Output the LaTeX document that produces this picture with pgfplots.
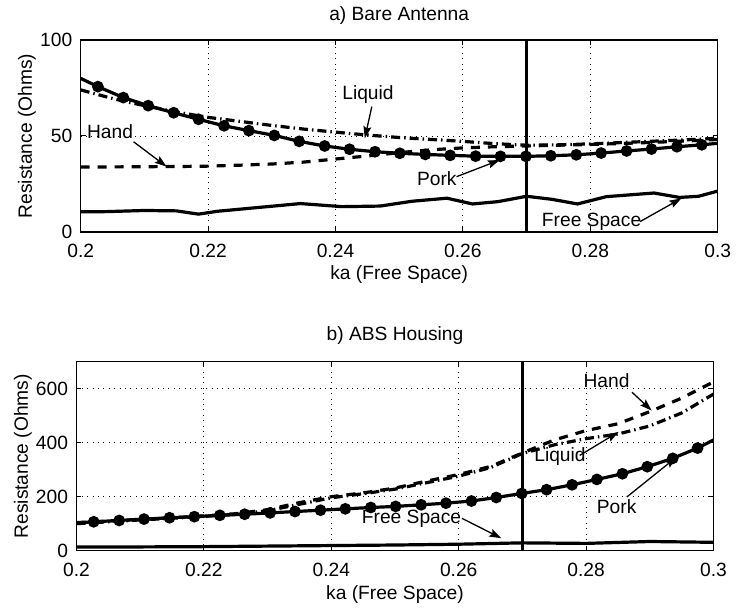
\documentclass[border=0pt]{standalone}
\usepackage{fontspec}
\setmainfont{Liberation Sans}
\usepackage{pgfplots}
\usepackage{pgfplotstable}
\pgfplotsset{compat=1.18}
\usetikzlibrary{arrows.meta}

\newcommand{\lblfont}{\fontsize{19.2}{22}\selectfont}

% ---------- a) Bare antenna ----------
\pgfplotstableread{
ka R
0.2000 80.0
0.2027 75.7
0.2067 70.0
0.2106 65.8
0.2146 62.1
0.2185 58.7
0.2225 55.3
0.2264 52.8
0.2304 50.3
0.2343 47.2
0.2383 44.8
0.2422 43.1
0.2462 41.8
0.2501 41.0
0.2541 40.4
0.2580 39.9
0.2620 39.5
0.2659 39.4
0.2699 39.4
0.2738 39.7
0.2778 40.2
0.2817 41.1
0.2857 42.2
0.2896 43.2
0.2936 44.4
0.2975 45.4
0.3000 46.2
}\porkA

\pgfplotstableread{
ka R
0.200 74.0
0.205 69.5
0.210 65.8
0.215 62.5
0.220 59.7
0.225 57.6
0.230 55.5
0.235 53.6
0.240 52.0
0.245 50.5
0.250 49.2
0.255 48.2
0.260 47.2
0.265 46.0
0.270 45.2
0.275 45.4
0.280 45.9
0.285 46.6
0.290 47.3
0.295 48.0
0.300 48.8
}\liquidA

\pgfplotstableread{
ka R
0.200 33.8
0.205 33.9
0.210 34.0
0.215 34.1
0.220 34.3
0.225 34.8
0.230 35.4
0.235 36.4
0.240 38.0
0.245 39.6
0.250 41.3
0.255 42.8
0.260 43.8
0.265 44.4
0.270 44.8
0.275 45.2
0.280 45.6
0.285 46.1
0.290 46.7
0.295 47.4
0.300 48.2
}\handA

\pgfplotstableread{
ka R
0.2000 10.5
0.2040 10.6
0.2100 11.2
0.2150 11.0
0.2185 9.3
0.2215 10.8
0.2280 12.8
0.2345 14.8
0.2410 13.2
0.2470 13.5
0.2520 16.0
0.2575 17.6
0.2615 14.6
0.2655 15.8
0.2700 18.6
0.2740 17.0
0.2780 14.6
0.2825 18.4
0.2900 20.3
0.2940 18.0
0.2970 18.6
0.3000 21.3
}\freeA

% ---------- b) ABS housing ----------
\pgfplotstableread{
ka R
0.2000 103
0.2027 107
0.2067 112
0.2106 117
0.2146 122
0.2185 126
0.2225 131
0.2264 135
0.2304 140
0.2343 145
0.2383 150
0.2422 155
0.2462 160
0.2501 164
0.2541 170
0.2580 176
0.2620 184
0.2659 197
0.2699 212
0.2738 226
0.2778 244
0.2817 264
0.2857 285
0.2896 311
0.2936 342
0.2975 380
0.3000 410
}\porkB

\pgfplotstableread{
ka R
0.200 104
0.205 110
0.210 116
0.215 122
0.220 129
0.225 137
0.230 152
0.235 178
0.240 200
0.245 214
0.250 232
0.255 258
0.260 282
0.265 312
0.270 362
0.275 410
0.280 445
0.285 470
0.290 515
0.295 565
0.300 625
}\handB

\pgfplotstableread{
ka R
0.200 100
0.205 107
0.210 114
0.215 120
0.220 127
0.225 135
0.230 148
0.235 172
0.240 196
0.245 211
0.250 228
0.255 252
0.260 276
0.265 308
0.270 360
0.275 392
0.280 415
0.285 432
0.290 462
0.295 510
0.300 580
}\liquidB

\pgfplotstableread{
ka R
0.200 14
0.210 14
0.220 15
0.230 17
0.240 19
0.250 21
0.260 24
0.270 29
0.280 27
0.290 34
0.300 31
}\freeB

\tikzset{
  note/.style={font=\lblfont, inner sep=1pt},
  pointer/.style={black, line width=1.3pt, -{Stealth[length=12pt, width=8pt, inset=2pt]}},
}

\pgfplotsset{
  panel/.style={
    scale only axis, width=637pt,
    xmin=0.2, xmax=0.3,
    xtick={0.2,0.22,0.24,0.26,0.28,0.3},
    xticklabels={0.2,0.22,0.24,0.26,0.28,0.3},
    grid=major,
    major grid style={line width=0.9pt, dash pattern=on 0.9pt off 4.5pt, black},
    axis line style={line width=1.3pt},
    tick style={line width=1pt, black},
    tick align=inside, major tick length=5pt,
    tick label style={font=\lblfont},
    xticklabel style={inner sep=1pt, yshift=-10.8pt},
    yticklabel style={inner sep=1pt, xshift=-7.3pt},
    label style={font=\lblfont},
    title style={font=\lblfont, anchor=center},
    xlabel={ka (Free Space)},
    ylabel={Resistance (Ohms)},
    xlabel style={anchor=center},
    ylabel style={at={(axis description cs:-0.0843,0.5)}, anchor=center},
    /pgf/number format/assume math mode=true,
  },
  pork/.style={black, line width=3.2pt, mark=*, mark size=4.2pt,
    mark options={solid}, mark indices={2,...,26}},
  hand/.style={black, line width=3.2pt, dash pattern=on 9pt off 8pt},
  liquid/.style={black, line width=3.2pt, dash pattern=on 9pt off 4pt on 1.5pt off 4pt},
  free/.style={black, line width=3.2pt},
  marker/.style={black, line width=3.6pt},
}

\begin{document}
\begin{tikzpicture}

\begin{axis}[panel,
  at={(80.7pt,380pt)}, anchor=south west, height=192pt,
  ymin=0, ymax=100, ytick={0,50,100}, yticklabels={0,50,100},
  title={a) Bare Antenna},
  title style={at={(axis description cs:0.5,1.095)}},
  xlabel style={at={(axis description cs:0.5,-0.222)}},
]
\addplot[free] table[x=ka, y=R] {\freeA};
\addplot[hand] table[x=ka, y=R] {\handA};
\addplot[liquid] table[x=ka, y=R] {\liquidA};
\addplot[pork] table[x=ka, y=R] {\porkA};
\addplot[marker] coordinates {(0.27,0) (0.27,100)};

\node[note] at (axis cs:0.2046,52.2) {Hand};
\draw[pointer] (axis cs:0.2083,47.0) -- (axis cs:0.2135,34.0);
\node[note] at (axis cs:0.2451,71.4) {Liquid};
\draw[pointer] (axis cs:0.2457,65.3) -- (axis cs:0.2446,48.8);
\node[note] at (axis cs:0.2559,28.0) {Pork};
\draw[pointer] (axis cs:0.2590,28.8) -- (axis cs:0.2658,37.5);
\node[note] at (axis cs:0.2802,5.4) {Free Space};
\draw[pointer] (axis cs:0.2878,5.4) -- (axis cs:0.2943,17.5);
\end{axis}

\begin{axis}[panel,
  at={(76.5pt,61.3pt)}, anchor=south west, height=189pt,
  ymin=0, ymax=700, ytick={0,200,400,600}, yticklabels={0,200,400,600},
  title={b) ABS Housing},
  title style={at={(axis description cs:0.5,1.106)}},
  xlabel style={at={(axis description cs:0.5,-0.233)}},
]
\addplot[free] table[x=ka, y=R] {\freeB};
\addplot[hand] table[x=ka, y=R] {\handB};
\addplot[liquid] table[x=ka, y=R] {\liquidB};
\addplot[pork] table[x=ka, y=R] {\porkB};
\addplot[marker] coordinates {(0.27,0) (0.27,700)};

\node[note] at (axis cs:0.2832,630) {Hand};
\draw[pointer] (axis cs:0.2872,587) -- (axis cs:0.2903,519);
\node[note] at (axis cs:0.2759,347) {Liquid};
\draw[pointer] (axis cs:0.2790,353) -- (axis cs:0.2851,440);
\node[note] at (axis cs:0.2848,162) {Pork};
\draw[pointer] (axis cs:0.2864,199) -- (axis cs:0.2942,347);
\node[note] at (axis cs:0.2526,120) {Free Space};
\draw[pointer] (axis cs:0.2605,120) -- (axis cs:0.2667,46);
\end{axis}

\pgfresetboundingbox
\path (0pt,0pt) rectangle (737pt,612pt);
\end{tikzpicture}
\end{document}
